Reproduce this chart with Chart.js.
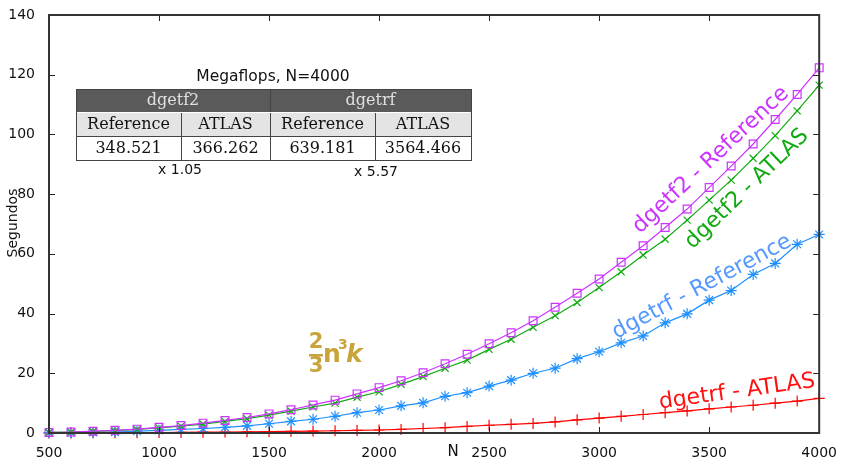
<!DOCTYPE html>
<html>
<head>
<meta charset="utf-8">
<script src="https://cdn.jsdelivr.net/npm/chart.js@4/dist/chart.umd.min.js"></script>
<style>
  html, body { margin: 0; padding: 0; background: #fff; }
</style>
</head>
<body>
<canvas id="chart" width="841" height="459"></canvas>
<script>
// matrix sizes
const sizes = [500, 600, 700, 800, 900, 1000, 1100, 1200, 1300, 1400, 1500, 1600,
  1700, 1800, 1900, 2000, 2100, 2200, 2300, 2400, 2500, 2600, 2700, 2800,
  2900, 3000, 3100, 3200, 3300, 3400, 3500, 3600, 3700, 3800, 3900, 4000];

// seconds
const dgetf2Reference = [0.2, 0.3, 0.6, 0.9, 1.3, 1.9, 2.5, 3.3, 4.2, 5.2, 6.4, 7.8,
  9.4, 11.0, 13.1, 15.2, 17.5, 20.2, 23.2, 26.4, 29.9, 33.6, 37.6, 42.1,
  46.8, 51.6, 57.2, 62.7, 68.8, 75.0, 82.2, 89.4, 96.8, 105.0, 113.4, 122.3];
const dgetf2Atlas = [0.2, 0.3, 0.5, 0.8, 1.2, 1.7, 2.3, 3.0, 3.9, 4.8, 6.0, 7.3,
  8.7, 10.0, 12.0, 13.8, 16.3, 18.9, 21.7, 24.4, 28.0, 31.4, 35.4, 39.3,
  43.7, 48.7, 54.0, 59.6, 64.9, 71.3, 78.0, 84.7, 92.0, 99.6, 107.9, 116.5];
const dgetrfReference = [0.05, 0.1, 0.2, 0.3, 0.6, 0.9, 1.2, 1.5, 1.9, 2.4, 3.1, 3.9,
  4.6, 5.6, 6.8, 7.7, 9.1, 10.1, 12.3, 13.5, 15.7, 17.7, 20.0, 21.7,
  24.9, 27.2, 30.2, 32.5, 36.9, 39.9, 44.5, 47.7, 53.1, 56.8, 63.2, 66.5];
const dgetrfAtlas = [0.02, 0.03, 0.05, 0.08, 0.1, 0.15, 0.2, 0.27, 0.33, 0.4, 0.5, 0.55,
  0.65, 0.75, 0.85, 1.0, 1.2, 1.5, 1.8, 2.2, 2.6, 2.9, 3.2, 3.7,
  4.4, 5.0, 5.6, 6.2, 6.8, 7.4, 8.1, 8.7, 9.3, 10.0, 10.7, 11.6];

// megaflops table
const tableGroups = ['dgetf2', 'dgetrf'];
const tableCols = ['Reference', 'ATLAS', 'Reference', 'ATLAS'];
const tableValues = ['348.521', '366.262', '639.181', '3564.466'];
const speedups = ['x 1.05', 'x 5.57'];

const xTicks = [500, 1000, 1500, 2000, 2500, 3000, 3500, 4000];
const yTicks = [0, 20, 40, 60, 80, 100, 120, 140];

const SANS = '"DejaVu Sans", sans-serif';
const SERIF = '"DejaVu Serif", serif';

function pts(values) {
  return sizes.map((n, i) => ({ x: n, y: values[i] }));
}

function series(label, values, color, style, radius) {
  return {
    label: label,
    data: pts(values),
    borderColor: color,
    backgroundColor: 'rgba(0,0,0,0)',
    pointBorderColor: color,
    pointBackgroundColor: 'rgba(0,0,0,0)',
    pointStyle: style,
    pointRadius: radius,
    pointBorderWidth: 1.2,
    borderWidth: 1.2,
    tension: 0,
    clip: false
  };
}

// frame, inward ticks, titles and the annotations
const decorations = {
  id: 'decorations',
  afterDraw(chart) {
    const ctx = chart.ctx;
    const a = chart.chartArea;
    const xs = chart.scales.x, ys = chart.scales.y;
    ctx.save();
    ctx.strokeStyle = '#222';
    ctx.lineWidth = 1;
    xTicks.forEach(v => {
      const px = Math.round(xs.getPixelForValue(v)) + 0.5;
      ctx.beginPath();
      ctx.moveTo(px, a.bottom); ctx.lineTo(px, a.bottom - 6);
      ctx.moveTo(px, a.top); ctx.lineTo(px, a.top + 6);
      ctx.stroke();
    });
    yTicks.forEach(v => {
      const py = Math.round(ys.getPixelForValue(v)) + 0.5;
      ctx.beginPath();
      ctx.moveTo(a.left, py); ctx.lineTo(a.left + 6, py);
      ctx.moveTo(a.right, py); ctx.lineTo(a.right - 6, py);
      ctx.stroke();
    });
    ctx.lineWidth = 2;
    ctx.strokeStyle = '#333';
    ctx.strokeRect(a.left, a.top, a.right - a.left, a.bottom - a.top);

    // axis titles
    ctx.fillStyle = '#111';
    ctx.font = '15px ' + SANS;
    ctx.textAlign = 'center';
    ctx.textBaseline = 'middle';
    ctx.fillText('N', 453, 452);
    ctx.save();
    ctx.translate(13, 223);
    ctx.rotate(-Math.PI / 2);
    ctx.font = '14px ' + SANS;
    ctx.fillText('Segundos', 0, 0);
    ctx.restore();

    // table
    const L = 76, R = 471, M = 270, c1 = 181, c3 = 375;
    const rows = [89, 112, 136, 160];
    ctx.font = '15.5px ' + SANS;
    ctx.fillStyle = '#111';
    ctx.fillText('Megaflops, N=4000', 273, 77);
    ctx.fillStyle = '#5a5a5a';
    ctx.fillRect(L, rows[0], R - L, rows[1] - rows[0]);
    ctx.fillStyle = '#e4e4e4';
    ctx.fillRect(L, rows[1], R - L, rows[2] - rows[1]);
    ctx.strokeStyle = '#444';
    ctx.lineWidth = 1;
    ctx.strokeRect(L + 0.5, rows[0] + 0.5, R - L, rows[3] - rows[0]);
    ctx.beginPath();
    ctx.moveTo(M + 0.5, rows[0]); ctx.lineTo(M + 0.5, rows[3]);
    ctx.moveTo(c1 + 0.5, rows[1]); ctx.lineTo(c1 + 0.5, rows[3]);
    ctx.moveTo(c3 + 0.5, rows[1]); ctx.lineTo(c3 + 0.5, rows[3]);
    ctx.moveTo(L, rows[2] + 0.5); ctx.lineTo(R, rows[2] + 0.5);
    ctx.stroke();
    ctx.strokeStyle = '#fff';
    ctx.beginPath();
    ctx.moveTo(L + 1, rows[1] + 0.5); ctx.lineTo(R - 1, rows[1] + 0.5);
    ctx.stroke();
    ctx.font = '16px ' + SERIF;
    ctx.fillStyle = '#e0e0e0';
    ctx.fillText(tableGroups[0], (L + M) / 2, 101);
    ctx.fillText(tableGroups[1], (M + R) / 2, 101);
    const colEdges = [L, c1, M, c3, R];
    ctx.fillStyle = '#111';
    for (let i = 0; i < 4; i++) {
      const cx = (colEdges[i] + colEdges[i + 1]) / 2;
      ctx.fillText(tableCols[i], cx, 124.5);
      ctx.fillText(tableValues[i], cx, 148.5);
    }
    ctx.font = '14px ' + SANS;
    ctx.fillText(speedups[0], 180, 170);
    ctx.fillText(speedups[1], 376, 172);

    // rotated series labels
    function label(text, color, x, y, deg) {
      ctx.save();
      ctx.translate(x, y);
      ctx.rotate(deg * Math.PI / 180);
      ctx.fillStyle = color;
      ctx.font = '22px ' + SANS;
      ctx.fillText(text, 0, 0);
      ctx.restore();
    }
    label('dgetf2 - Reference', '#cc33ff', 711, 160, -43);
    label('dgetf2 - ATLAS', '#11aa11', 747, 189, -44);
    label('dgetrf - Reference', '#5599ff', 702, 287, -28);
    label('dgetrf - ATLAS', '#ff1111', 737, 392, -8);

    // 2/3 n^3 k
    ctx.fillStyle = '#c8a43a';
    ctx.font = 'bold 21px ' + SANS;
    ctx.fillText('2', 316, 343);
    ctx.fillText('3', 316, 367);
    ctx.fillRect(309, 354, 14, 2.5);
    ctx.font = 'bold 25px ' + SANS;
    ctx.textAlign = 'left';
    ctx.fillText('n', 323, 355);
    ctx.font = 'bold 14px ' + SANS;
    ctx.fillText('3', 338, 345);
    ctx.font = 'italic bold 25px ' + SANS;
    ctx.fillText('k', 346, 355);
    ctx.restore();
  }
};

new Chart(document.getElementById('chart').getContext('2d'), {
  type: 'line',
  data: {
    datasets: [
      series('dgetf2 - Reference', dgetf2Reference, '#cc33ff', 'rect', 5.5),
      series('dgetf2 - ATLAS', dgetf2Atlas, '#11aa11', 'crossRot', 5),
      series('dgetrf - Reference', dgetrfReference, '#1e90ff', 'star', 5.5),
      series('dgetrf - ATLAS', dgetrfAtlas, '#ff0000', 'cross', 5.5)
    ]
  },
  options: {
    responsive: false,
    animation: false,
    layout: { padding: { top: 15, right: 12, left: 0, bottom: 0 } },
    plugins: { legend: { display: false }, tooltip: { enabled: false } },
    scales: {
      x: {
        type: 'linear',
        min: 500,
        max: 4000,
        afterBuildTicks: s => { s.ticks = xTicks.map(v => ({ value: v })); },
        afterFit: s => { s.height = 26; },
        grid: { display: false },
        border: { display: false },
        ticks: {
          color: '#111', font: { family: SANS, size: 14 }, padding: 4, maxRotation: 0,
          callback: v => String(v)
        }
      },
      y: {
        min: 0,
        max: 140,
        afterBuildTicks: s => { s.ticks = yTicks.map(v => ({ value: v })); },
        afterFit: s => { s.width = 49; },
        grid: { display: false },
        border: { display: false },
        ticks: { color: '#111', font: { family: SANS, size: 14 }, padding: 6 }
      }
    }
  },
  plugins: [decorations]
});
</script>
</body>
</html>
